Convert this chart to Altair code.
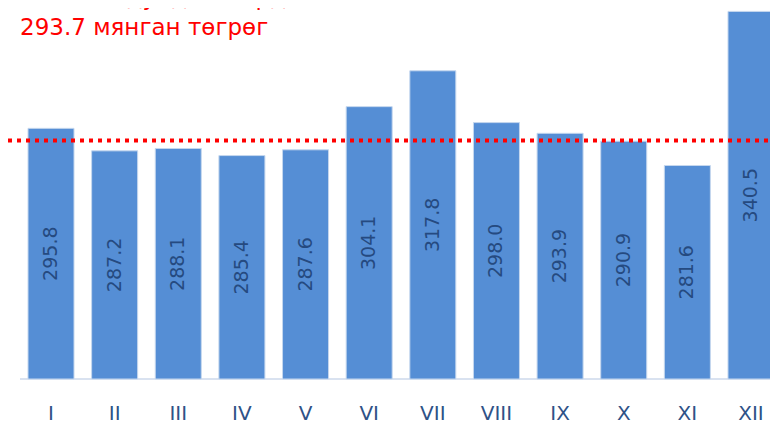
import altair as alt
import pandas as pd

months = ["I", "II", "III", "IV", "V", "VI", "VII", "VIII", "IX", "X", "XI", "XII"]
values = [295.8, 287.2, 288.1, 285.4, 287.6, 304.1, 317.8, 298.0, 293.9, 290.9, 281.6, 340.5]
labels = ["295.8", "287.2", "288.1", "285.4", "287.6", "304.1", "317.8", "298.0", "293.9", "290.9", "281.6", "340.5"]
avg_line = [291.2]
title_lines = ["Жилийн дундаж зардал", "293.7 мянган төгрөг"]

BASE = 200.0
TOP = 341.8

df = pd.DataFrame({"month": months, "value": values, "label": labels})
df["base"] = BASE
df["mid"] = (df["value"] + BASE) / 2

xenc = alt.X("month:N", sort=months,
             scale=alt.Scale(paddingInner=0.277, paddingOuter=0, range=[9, 755]),
             axis=alt.Axis(title=None, labelAngle=0, ticks=False, domain=False,
                           labelColor="#2F5287", labelFontSize=20,
                           labelFont="DejaVu Sans", labelPadding=24))
yscale = alt.Scale(domain=[BASE, TOP], nice=False, zero=False)

baseline = alt.Chart(pd.DataFrame({"b": [BASE]})).mark_rule(
    color="#D9E2F0", strokeWidth=2
).encode(
    y=alt.Y("b:Q", scale=yscale, axis=None),
    x=alt.value(1),
    x2=alt.value(751),
)

bars = alt.Chart(df).mark_bar(color="#558ED5", stroke="#C5D7EE", strokeWidth=1).encode(
    x=xenc,
    y=alt.Y("value:Q", scale=yscale, axis=None),
    y2="base:Q",
)

texts = alt.Chart(df).mark_text(angle=270, color="#254A80", fontSize=19,
                                font="DejaVu Sans", baseline="middle",
                                align="center").encode(
    x=alt.X("month:N", sort=months),
    y=alt.Y("mid:Q", scale=yscale, axis=None),
    text="label:N",
)

rule = alt.Chart(pd.DataFrame({"avg": avg_line})).mark_rule(
    color="#FF0000", strokeWidth=4, strokeDash=[4, 5]
).encode(
    y=alt.Y("avg:Q", scale=yscale, axis=None),
    x=alt.value(-11),
    x2=alt.value(751),
)

t1 = alt.Chart(pd.DataFrame({"line": [title_lines[0]]})).mark_text(
    align="left", baseline="alphabetic", color="#FF0000", fontSize=23, font="DejaVu Sans"
).encode(x=alt.value(1), y=alt.value(-3), text="line:N")

t2 = alt.Chart(pd.DataFrame({"line": [title_lines[1]]})).mark_text(
    align="left", baseline="alphabetic", color="#FF0000", fontSize=23, font="DejaVu Sans"
).encode(x=alt.value(1), y=alt.value(27), text="line:N")

chart = alt.layer(baseline, bars, texts, rule, t1, t2).properties(
    width=751, height=371,
    padding={"left": 11, "top": 0, "right": 0, "bottom": 42},
    autosize=alt.AutoSizeParams(type="none"),
).configure_view(stroke=None).configure_axis(grid=False)

chart.save("out.html", embed_options={"renderer": "svg", "actions": False})
